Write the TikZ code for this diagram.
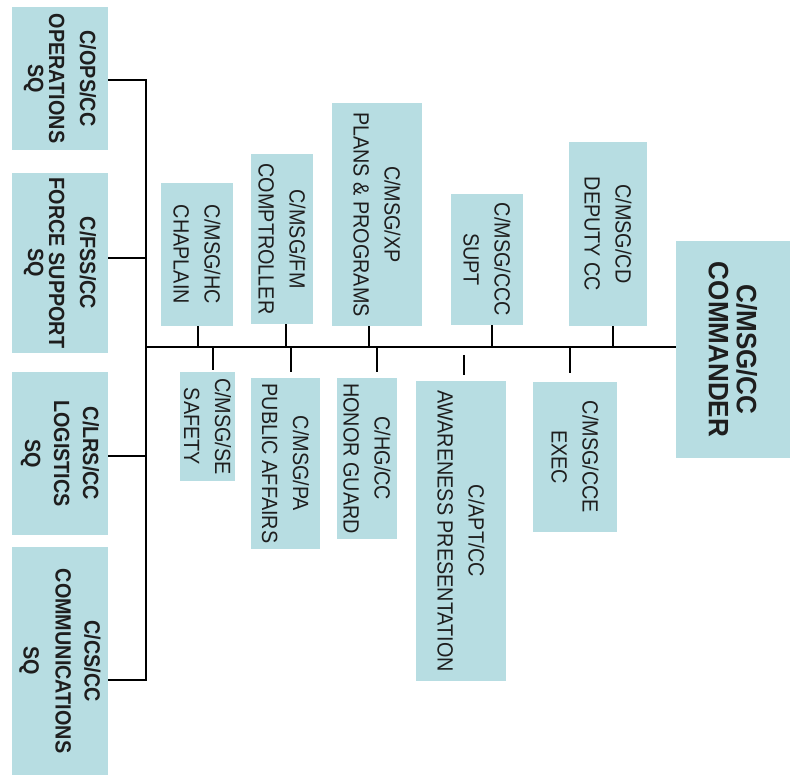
\documentclass[tikz,border=0pt]{standalone}
\usepackage{fontspec}
\setmainfont{Liberation Sans}
\newfontfamily\tallfont[FakeStretch=0.9]{Liberation Sans}
\newfontfamily\cmdfont[FakeStretch=0.93]{Liberation Sans}
\definecolor{boxfill}{RGB}{183,221,226}
\definecolor{ink}{RGB}{30,30,30}
\tikzset{
  unit/.style={rotate=-90, fill=boxfill, inner sep=0pt, align=center, text=ink,
    font=\tallfont\fontsize{22}{31}\selectfont},
  sqbox/.style={unit, font=\tallfont\bfseries\fontsize{22}{29}\selectfont},
  cmdbox/.style={unit, font=\cmdfont\bfseries\fontsize{28}{28}\selectfont},
  link/.style={draw=black, line width=2.6pt},
}
\begin{document}
\begin{tikzpicture}[x=1pt,y=-1pt]
\useasboundingbox[fill=white] (0,0) rectangle (790,783);
% squadrons (left)
\node[sqbox, minimum width=143pt, minimum height=96pt] (ops) at (60,78.5) {C/OPS/CC\\[2pt]OPERATIONS\\[-8pt]SQ};
\node[sqbox, minimum width=180pt, minimum height=96pt] (fss) at (60,263) {C/FSS/CC\\[2pt]FORCE SUPPORT\\[-8pt]SQ};
\node[sqbox, minimum width=163pt, minimum height=96pt] (lrs) at (60,453.5) {C/LRS/CC\\LOGISTICS\\SQ};
\node[sqbox, minimum width=228pt, minimum height=96pt] (cs) at (60,661) {C/CS/CC\\COMMUNICATIONS\\[3pt]SQ};
% staff above the line
\node[unit, minimum width=143pt, minimum height=72pt] (chap) at (197,254.5) {C/MSG/HC\\CHAPLAIN};
\node[unit, minimum width=170pt, minimum height=62pt] (fm) at (282,239) {C/MSG/FM\\COMPTROLLER};
\node[unit, minimum width=223pt, minimum height=90pt] (xp) at (377,214.5) {C/MSG/XP\\PLANS \& PROGRAMS};
\node[unit, minimum width=131pt, minimum height=72pt] (ccc) at (487,259.5) {C/MSG/CCC\\SUPT};
\node[unit, minimum width=184pt, minimum height=78pt] (cd) at (608,234) {C/MSG/CD\\DEPUTY CC};
% staff below the line
\node[unit, minimum width=109pt, minimum height=55pt] (se) at (207.5,426.5) {C/MSG/SE\\SAFETY};
\node[unit, minimum width=171pt, minimum height=69pt] (pa) at (285.5,463.5) {C/MSG/PA\\PUBLIC AFFAIRS};
\node[unit, minimum width=161pt, minimum height=60pt] (hg) at (367,458.5) {C/HG/CC\\HONOR GUARD};
\node[unit, minimum width=300pt, minimum height=90pt] (apt) at (461,531) {C/APT/CC\\AWARENESS PRESENTATION};
\node[unit, minimum width=150pt, minimum height=84pt] (cce) at (575,457) {C/MSG/CCE\\EXEC};
% commander
\node[cmdbox, minimum width=217pt, minimum height=114pt] (cc) at (733,349.5) {C/MSG/CC\\COMMANDER};
% junction coordinates
\coordinate (jo) at (146,80);
\coordinate (jf) at (146,258);
\coordinate (jm) at (146,347);
\coordinate (jl) at (146,456);
\coordinate (jc) at (146,680);
\coordinate (t1) at (198,347);
\coordinate (t2) at (286,347);
\coordinate (t3) at (369,347);
\coordinate (t4) at (492,347);
\coordinate (t5) at (613,347);
\coordinate (b1) at (213,347);
\coordinate (b2) at (291,347);
\coordinate (b3) at (377,347);
\coordinate (b4) at (464,355);
\coordinate (b5) at (570,347);
% connectors
\draw[link] (ops.north |- jo) -- (jo) -- (jc) -- (cs.north |- jc);
\draw[link] (fss.north |- jf) -- (jf);
\draw[link] (lrs.north |- jl) -- (jl);
\draw[link] (jm) -- (cc.south |- jm);
\draw[link] (chap.east -| t1) -- (t1);
\draw[link] (fm.east -| t2) -- (t2);
\draw[link] (xp.east -| t3) -- (t3);
\draw[link] (ccc.east -| t4) -- (t4);
\draw[link] (cd.east -| t5) -- (t5);
\draw[link, shorten >=2pt] (b1) -- (se.west -| b1);
\draw[link, shorten >=6pt] (b2) -- (pa.west -| b2);
\draw[link, shorten >=6pt] (b3) -- (hg.west -| b3);
\draw[link, shorten >=6pt] (b4) -- (apt.west -| b4);
\draw[link, shorten >=9pt] (b5) -- (cce.west -| b5);
\end{tikzpicture}
\end{document}
